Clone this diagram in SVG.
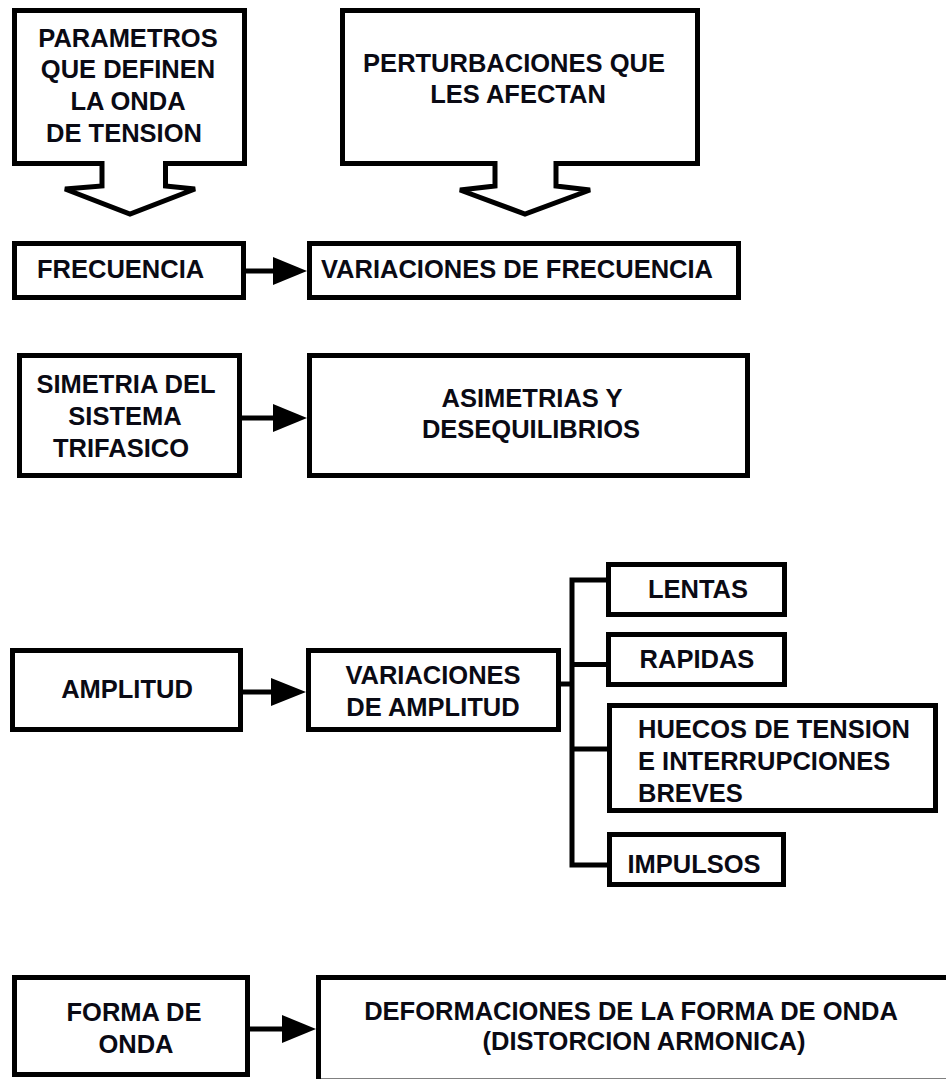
<svg xmlns="http://www.w3.org/2000/svg" width="946" height="1079" viewBox="0 0 946 1079">
<defs>
<style>
.box{fill:#fff;stroke:#000;stroke-width:5;stroke-linejoin:miter}
.ln{fill:none;stroke:#000;stroke-width:5}
.hd{fill:#000;stroke:none}
text{font-family:"Liberation Sans",Arial,sans-serif;font-weight:bold;font-size:25.5px;fill:#0a0a14}
.c{text-anchor:middle}
</style>
</defs>
<rect width="946" height="1079" fill="#fff"/>
<g id="parametros">
<path class="box" d="M14.5,10.5 H244.5 V163.5 H165.5 V186 L195,189 L130,214 L65,189 L102,186 V163.5 H14.5 Z"/>
<text class="c" x="128" y="46.5">PARAMETROS</text>
<text class="c" x="128" y="78">QUE DEFINEN</text>
<text class="c" x="128" y="110">LA ONDA</text>
<text class="c" x="124" y="141.5">DE TENSION</text>
</g>
<g id="perturbaciones">
<path class="box" d="M342.5,10.5 H697.5 V163.5 H556 V186 L590,190 L525,214 L460,190 L495,186 V163.5 H342.5 Z"/>
<text class="c" x="514" y="71.5">PERTURBACIONES QUE</text>
<text class="c" x="518" y="103">LES AFECTAN</text>
</g>
<g id="frecuencia">
<rect class="box" x="14.5" y="243.5" width="229" height="54"/>
<text x="37" y="278">FRECUENCIA</text>
</g>
<g id="var-frecuencia">
<rect class="box" x="309.5" y="243.5" width="429" height="54"/>
<text x="321" y="278">VARIACIONES DE FRECUENCIA</text>
</g>
<g id="simetria">
<rect class="box" x="19.5" y="355.5" width="220" height="120"/>
<text class="c" x="126" y="393">SIMETRIA DEL</text>
<text class="c" x="125" y="425">SISTEMA</text>
<text class="c" x="121" y="457">TRIFASICO</text>
</g>
<g id="asimetrias">
<rect class="box" x="309.5" y="355.5" width="438" height="120"/>
<text class="c" x="532" y="406.5">ASIMETRIAS Y</text>
<text class="c" x="531" y="438">DESEQUILIBRIOS</text>
</g>
<g id="amplitud">
<rect class="box" x="12.5" y="650.5" width="228" height="79"/>
<text class="c" x="127" y="698">AMPLITUD</text>
</g>
<g id="var-amplitud">
<rect class="box" x="308.5" y="650.5" width="250" height="79"/>
<text class="c" x="433" y="684">VARIACIONES</text>
<text class="c" x="433" y="716">DE AMPLITUD</text>
</g>
<g id="lentas">
<rect class="box" x="608.5" y="564.5" width="176" height="50"/>
<text class="c" x="698" y="598">LENTAS</text>
</g>
<g id="rapidas">
<rect class="box" x="608.5" y="634.5" width="176" height="50"/>
<text class="c" x="697" y="668">RAPIDAS</text>
</g>
<g id="huecos">
<rect class="box" x="609.5" y="705.5" width="326" height="105"/>
<text x="638" y="738">HUECOS DE TENSION</text>
<text x="638" y="770">E INTERRUPCIONES</text>
<text x="638" y="802">BREVES</text>
</g>
<g id="impulsos">
<rect class="box" x="609.5" y="834.5" width="174" height="50"/>
<text class="c" x="694" y="873">IMPULSOS</text>
</g>
<g id="forma">
<rect class="box" x="14.5" y="977.5" width="233" height="97"/>
<text class="c" x="134" y="1021">FORMA DE</text>
<text class="c" x="136" y="1053">ONDA</text>
</g>
<g id="deformaciones">
<rect class="box" x="318.5" y="977.5" width="650" height="103.5"/>
<text class="c" x="631" y="1020">DEFORMACIONES DE LA FORMA DE ONDA</text>
<text class="c" x="644" y="1050">(DISTORCION ARMONICA)</text>
</g>
<g id="connectors">
<line class="ln" x1="246" y1="271" x2="276" y2="271"/>
<polygon class="hd" points="273,257 307,271 273,285"/>
<line class="ln" x1="242" y1="418" x2="276" y2="418"/>
<polygon class="hd" points="273,404 307,418 273,432"/>
<line class="ln" x1="243" y1="692" x2="274" y2="692"/>
<polygon class="hd" points="271,678 306,692 271,706"/>
<line class="ln" x1="250" y1="1029" x2="285" y2="1029"/>
<polygon class="hd" points="282,1015 316,1029 282,1043"/>
<line class="ln" x1="561" y1="684" x2="572" y2="684"/>
<polyline class="ln" points="607,580 572,580 572,865 607,865"/>
<line class="ln" x1="572" y1="664.5" x2="607" y2="664.5"/>
<line class="ln" x1="572" y1="749" x2="607" y2="749"/>
</g>
</svg>
